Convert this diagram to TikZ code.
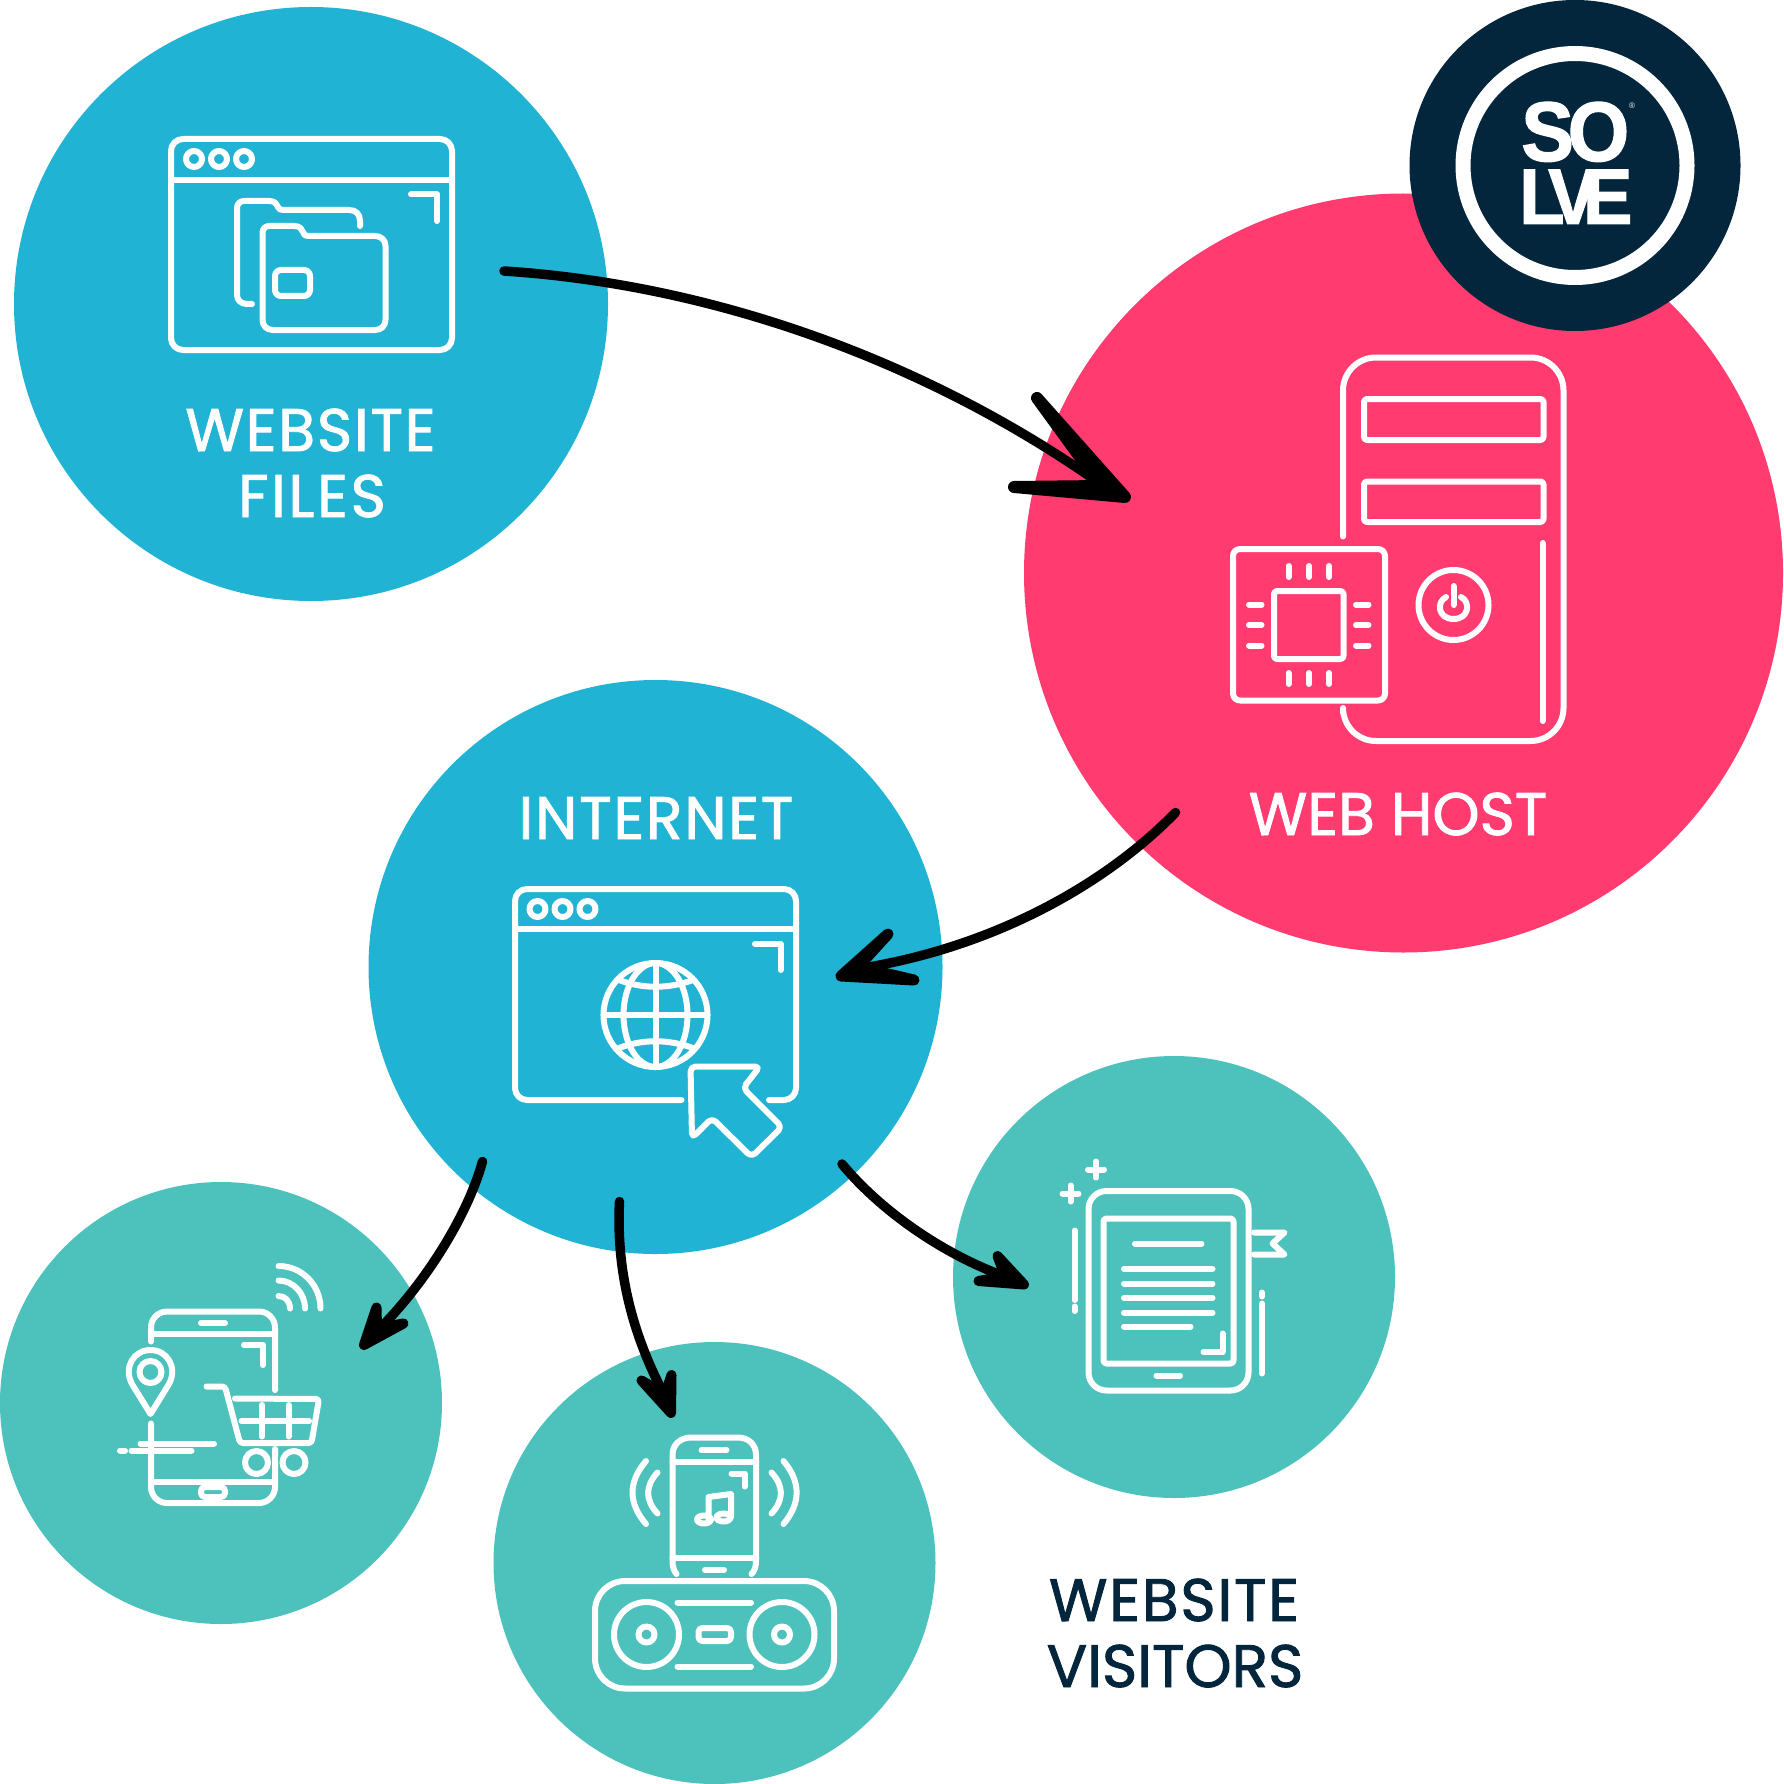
\documentclass[tikz,border=0pt]{standalone}
\usepackage{fontspec}
\usepackage{xcolor}
\setmainfont{Poppins}[FakeBold=1.5]
\newfontfamily\logofont{Liberation Sans}[BoldFeatures={FakeBold=1.5}]

\definecolor{skyblue}{HTML}{20B3D3}
\definecolor{hostpink}{HTML}{FF3B6F}
\definecolor{visitorteal}{HTML}{4DC1BB}
\definecolor{logonavy}{HTML}{03263D}

\tikzset{
  disc/.style={circle,inner sep=0pt,minimum size=#1},
  icon/.style={draw=white,line width=6pt,line cap=round,line join=round},
  biglabel/.style={anchor=base,inner sep=0pt,font=\fontsize{60}{66}\selectfont},
  flow/.style={draw=black,line width=9.5pt,line cap=round},
  barb/.style={draw=black,fill=black,line width=#1,line join=round},
}
\newcommand{\widen}[1]{\addfontfeature{LetterSpace=#1}}

\begin{document}
\begin{tikzpicture}[x=1pt,y=-1pt]
  \useasboundingbox (0,0) rectangle (1783,1784);

  % circles
  \node[disc=594pt,fill=skyblue] (filescircle) at (311,304) {};
  \node[disc=759pt,fill=hostpink] (hostcircle) at (1403.5,573) {};
  \node[disc=331pt,fill=logonavy] (logocircle) at (1575,165.5) {};
  \node[disc=574pt,fill=skyblue] (netcircle) at (655.5,967) {};
  \node[disc=442pt,fill=visitorteal] (shopcircle) at (221,1403) {};
  \node[disc=442pt,fill=visitorteal] (musiccircle) at (714.5,1563) {};
  \node[disc=442pt,fill=visitorteal] (bookcircle) at (1174,1277) {};

  % logo
  \node[disc=224pt,draw=white,line width=15pt] (logoring) at (1575,165.5) {};
  \node[inner sep=0pt,text=white,anchor=south west] (logotop) at (1521,162)
    {\resizebox{108pt}{59pt}{\logofont\bfseries S\kern-0.08em O}};
  \node[inner sep=0pt,text=white,anchor=south west] (logobottom) at (1519,224)
    {\resizebox{113pt}{54pt}{\logofont\bfseries L\kern-0.22em V\kern-0.2em E}};
  \node[inner sep=0pt,text=white,font=\logofont\fontsize{8}{8}\selectfont] (logomark) at (1632,106) {®};

  % labels
  \node[biglabel,text=white] (filestop) at (310.5,451) {\widen{3}WEBSITE};
  \node[biglabel,text=white] (filesbottom) at (312,517) {\widen{4.5}FILES};
  \node[biglabel,text=white] (hostlabel) at (1398,835) {WEB HOST};
  \node[biglabel,text=white] (netlabel) at (656,839) {\widen{3}INTERNET};
  \node[biglabel,text=logonavy] (visitorstop) at (1174,1621) {\widen{3}WEBSITE};
  \node[biglabel,text=logonavy] (visitorsbottom) at (1175,1687) {VISITORS};

  % website files icon
  \draw[icon,rounded corners=12pt] (171,139) rectangle (452,350);
  \draw[icon] (171,180) -- (452,180);
  \foreach \x in {194,219,244} \draw[icon] (\x,159) circle (8pt);
  \draw[icon] (411,194.5) -- (437,194.5) -- (437,221);
  \draw[icon] (252,304) -- (247,304) .. controls (241,304) and (237,300) .. (237,295) -- (237,208) .. controls (237,204) and (240,201) .. (244,201) -- (269,201) .. controls (275,201) and (277,204) .. (278,207) .. controls (279,209) and (280,210) .. (283,210) -- (349,210) .. controls (356,210) and (360,214) .. (360,221) -- (360,226);
  \draw[icon] (262.5,233) .. controls (262.5,229) and (265,226) .. (269,226) -- (294,226) .. controls (300,226) and (302,229) .. (303,232) .. controls (304,235) and (305,236) .. (308,236) -- (375,236) .. controls (381,236) and (385.5,240) .. (385.5,246) -- (385.5,320) .. controls (385.5,326) and (381,330) .. (375,330) -- (273,330) .. controls (267,330) and (262.5,326) .. (262.5,320) -- cycle;
  \draw[icon,rounded corners=6pt] (275,270) rectangle (310,296);

  % web host icon
  \draw[icon,rounded corners=33pt] (1343,536.5) -- (1343,357.5) -- (1563.5,357.5) -- (1563.5,741) -- (1343,741) -- (1343,713);
  \draw[icon,rounded corners=3pt] (1364,399) rectangle (1543.5,440);
  \draw[icon,rounded corners=3pt] (1364,481.5) rectangle (1543.5,522);
  \draw[icon] (1542.5,543) -- (1542.5,721);
  \draw[icon,rounded corners=7pt] (1233,549) rectangle (1385,700.5);
  \draw[icon,rounded corners=3pt] (1274,591) rectangle (1343.5,659);
  \foreach \x in {1288.5,1309,1329} {
    \draw[icon] (\x,566) -- (\x,577);
    \draw[icon] (\x,673) -- (\x,684);
  }
  \foreach \y in {604.5,625,645.5} {
    \draw[icon] (1249,\y) -- (1261.5,\y);
    \draw[icon] (1356,\y) -- (1368.5,\y);
  }
  \draw[icon] (1453.5,605) circle (35pt);
  \draw[icon] (1446,597) .. controls (1436,602) and (1438,619) .. (1453.5,619) .. controls (1469,619) and (1471,602) .. (1461,597);
  \draw[icon] (1453.5,586) -- (1453.5,605);

  % internet icon
  \draw[icon,rounded corners=12pt] (681.5,1100) -- (515,1100) -- (515,889) -- (796,889) -- (796,1100) -- (769,1100);
  \draw[icon] (515,929) -- (796,929);
  \foreach \x in {537.5,562.5,587.5} \draw[icon] (\x,909) circle (8pt);
  \draw[icon] (755,944) -- (780.5,944) -- (780.5,970);
  \draw[icon] (655.5,1015) circle (52pt);
  \draw[icon] (655.5,1015) ellipse (32pt and 52pt);
  \draw[icon] (655.5,963) -- (655.5,1067);
  \draw[icon] (603.5,1015) -- (707.5,1015);
  \draw[icon] (619,980) .. controls (643,989) and (668,989) .. (693,980);
  \draw[icon] (619,1048) .. controls (643,1039) and (668,1039) .. (693,1048);
  \draw[icon,rounded corners=5pt] (690.5,1066.5) -- (760,1066.5) -- (743,1088) -- (782,1127) -- (751.5,1157) -- (712,1118) -- (692,1138) -- cycle;

  % shop icon
  \draw[icon,rounded corners=16pt] (151,1341.5) -- (151,1311.5) -- (275,1311.5) -- (275,1390);
  \draw[icon,rounded corners=16pt] (151,1423.5) -- (151,1503) -- (275,1503) -- (275,1449);
  \draw[icon] (151,1334) -- (275,1334);
  \draw[icon] (151,1481.5) -- (275,1481.5);
  \draw[icon] (201,1323) -- (225,1323);
  \draw[icon,rounded corners=4pt] (201,1487) rectangle (225,1497);
  \draw[icon] (244,1345) -- (263,1345) -- (263,1365);
  \draw[icon] (150.5,1414) -- (132,1384) .. controls (123,1367) and (134,1350) .. (150.5,1350) .. controls (167,1350) and (178,1367) .. (169,1384) -- cycle;
  \draw[icon] (150.5,1372) circle (11pt);
  \draw[icon] (140.5,1443.5) -- (214,1443.5);
  \draw[icon] (131.5,1450.5) -- (191.5,1450.5);
  \draw[icon] (120,1450.5) -- (125,1450.5);
  \draw[icon,rounded corners=3pt] (206.5,1386.5) -- (225,1386.5) -- (240,1443) -- (311.5,1443) -- (319,1399) -- (235,1398.5);
  \draw[icon] (241.5,1421) -- (309,1421);
  \foreach \x in {262,288.5} \draw[icon] (\x,1405) -- (\x,1436.5);
  \foreach \x in {256.5,294} \draw[icon] (\x,1462.5) circle (11.5pt);
  \draw[icon] (278.5,1266) .. controls (302,1266) and (320.5,1285) .. (320.5,1308.5);
  \draw[icon] (278.5,1280.5) .. controls (293,1280.5) and (305,1293) .. (305,1308.5);
  \draw[icon] (278.5,1296) .. controls (285,1296) and (290,1301) .. (290,1308.5);

  % music icon
  \draw[icon] (676.5,1574) .. controls (674,1571) and (672.5,1567) .. (672.5,1561) -- (672.5,1455) .. controls (672.5,1444) and (681,1437.5) .. (691,1437.5) -- (738,1437.5) .. controls (748,1437.5) and (756,1444) .. (756,1455) -- (756,1561) .. controls (756,1567) and (754.5,1571) .. (751.5,1574);
  \draw[icon] (672.5,1461.5) -- (756,1461.5);
  \draw[icon] (672.5,1557.5) -- (756,1557.5);
  \draw[icon] (701.5,1450) -- (726.5,1450);
  \draw[icon] (705,1570) -- (724,1570);
  \draw[icon] (731.5,1473.5) -- (744.5,1473.5) -- (744.5,1486.5);
  \draw[icon] (708.5,1519) -- (708.5,1497) -- (731,1494) -- (731,1517);
  \draw[icon] (704,1519.5) ellipse (7pt and 4pt);
  \draw[icon] (723.5,1517.5) ellipse (7pt and 4pt);
  \draw[icon] (646,1461) .. controls (628,1482) and (628,1503) .. (646,1524);
  \draw[icon] (657.5,1472.5) .. controls (645,1486) and (645,1500) .. (657.5,1513.5);
  \draw[icon] (783.5,1461) .. controls (801,1482) and (801,1503) .. (783.5,1524);
  \draw[icon] (771.5,1472.5) .. controls (784,1486) and (784,1500) .. (771.5,1513.5);
  \draw[icon,rounded corners=30pt] (595,1581) rectangle (834,1688.5);
  \foreach \x in {646.5,782} {
    \draw[icon] (\x,1634.5) circle (32.5pt);
    \draw[icon] (\x,1634.5) circle (8pt);
  }
  \draw[icon] (677.5,1602.5) -- (751,1602.5);
  \draw[icon] (677.5,1666.5) -- (751,1666.5);
  \draw[icon,rounded corners=4pt] (698.5,1628) rectangle (731,1641);

  % reader icon
  \draw[icon,rounded corners=18pt] (1088.5,1191) rectangle (1248.5,1390.5);
  \draw[icon,rounded corners=3pt] (1103.5,1218.5) rectangle (1233.5,1363.5);
  \draw[icon] (1156.5,1375.5) -- (1180,1375.5);
  \draw[icon] (1135,1243.5) -- (1201.5,1243.5);
  \foreach \y in {1269,1283.5,1298,1312.5} \draw[icon] (1124,\y) -- (1212.5,\y);
  \draw[icon] (1124,1326.5) -- (1190.5,1326.5);
  \draw[icon] (1203.5,1352) -- (1222.5,1352) -- (1222.5,1333.5);
  \draw[icon] (1088,1169.5) -- (1104,1169.5);
  \draw[icon] (1096,1161.5) -- (1096,1177.5);
  \draw[icon] (1062.5,1193.5) -- (1078.5,1193.5);
  \draw[icon] (1070.5,1185.5) -- (1070.5,1201.5);
  \draw[icon] (1074.5,1230.5) -- (1074.5,1300);
  \draw[icon] (1074.5,1306.5) -- (1074.5,1311);
  \draw[icon] (1262,1303.5) -- (1262,1373.5);
  \draw[icon] (1262,1292.5) -- (1262,1296.5);
  \draw[icon] (1254,1232.5) -- (1284.5,1232.5) -- (1272.5,1243.5) -- (1284.5,1254.5) -- (1254,1254.5);

  % arrows
  \coordinate (filesout) at (504,271);
  \coordinate (hostin) at (1095,480);
  \coordinate (hostout) at (1175.5,812.5);
  \coordinate (netin) at (850,970);
  \coordinate (netleft) at (482.5,1161.5);
  \coordinate (shopin) at (372,1336);
  \coordinate (netmid) at (619.5,1201.5);
  \coordinate (musicin) at (666,1398);
  \coordinate (netright) at (842,1164);
  \coordinate (bookin) at (1015,1280);

  \draw[flow] (filesout) .. controls (720,285) and (930,365) .. (hostin);
  \filldraw[barb=12pt] (1037,398) -- (1101,486) -- (1014,487) -- (1125,497) -- cycle;

  \draw[flow] (hostout) .. controls (1105,885) and (990,950) .. (netin);
  \filldraw[barb=11pt] (888,934) -- (858,967) -- (914,980) -- (841,976) -- cycle;

  \draw[flow] (netleft) .. controls (467,1218) and (421,1290) .. (shopin);
  \filldraw[barb=10pt] (376.5,1307.5) -- (377,1328) -- (403.5,1323.5) -- (364,1345) -- cycle;

  \draw[flow] (netmid) .. controls (616,1270) and (632,1335) .. (musicin);
  \filldraw[barb=10pt] (671.5,1375) -- (665,1394) -- (641.5,1380.5) -- (671,1413) -- cycle;

  \draw[flow] (netright) .. controls (880,1210) and (945,1257) .. (bookin);
  \filldraw[barb=10pt] (997.5,1256) -- (1005,1276) -- (978.5,1281) -- (1024,1284.5) -- cycle;
\end{tikzpicture}
\end{document}
